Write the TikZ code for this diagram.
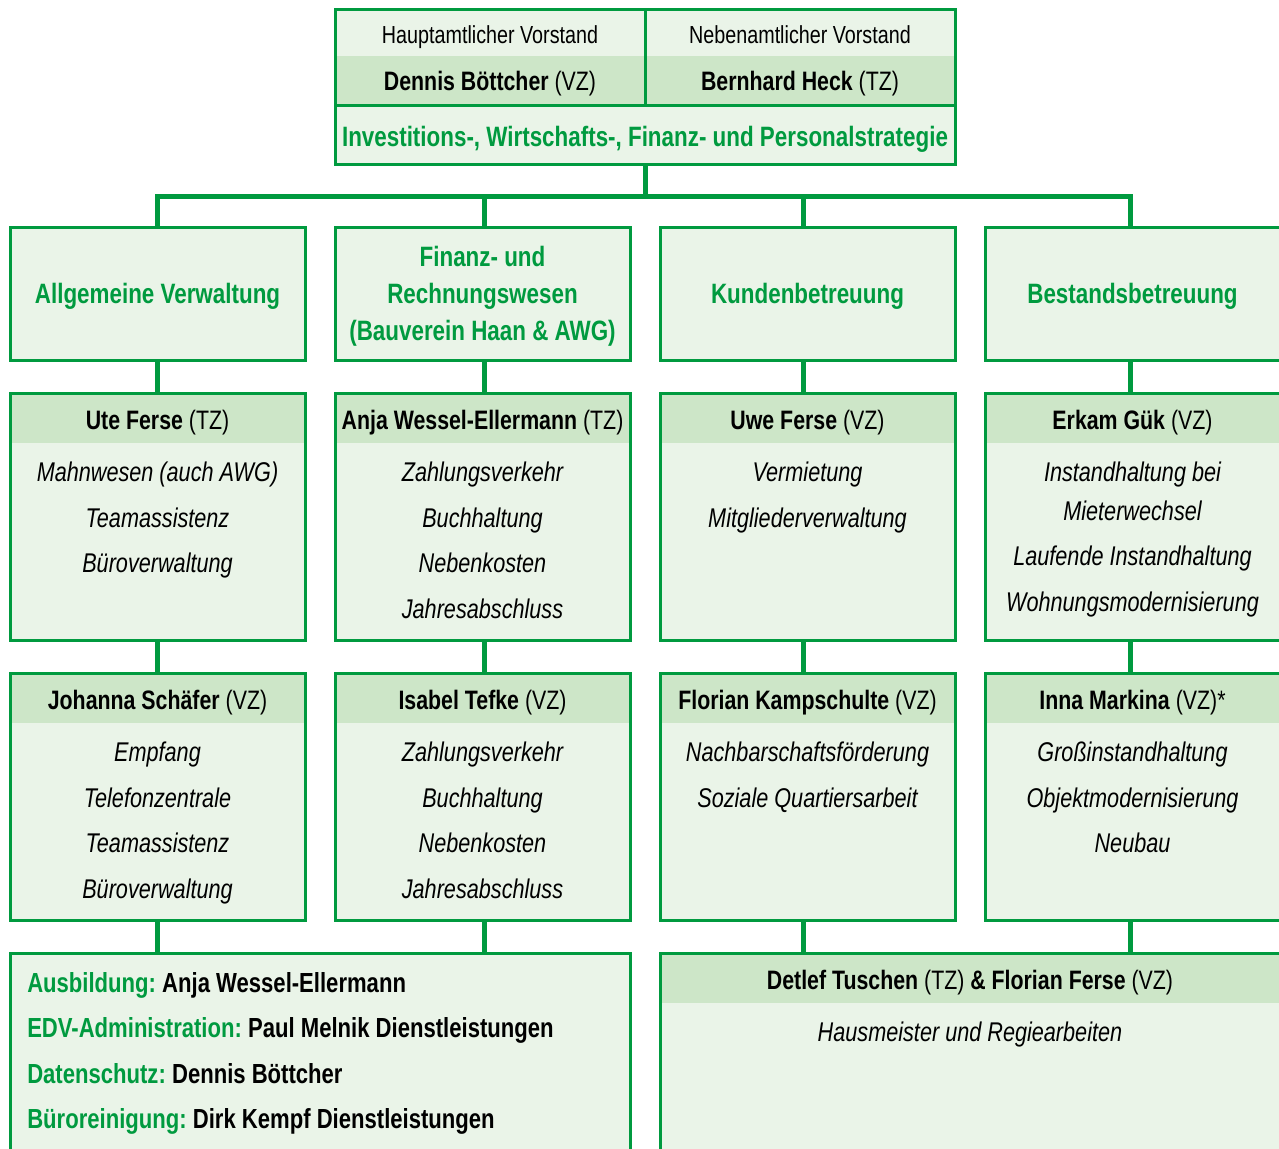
\documentclass[tikz,border=0pt]{standalone}
\usepackage{fontspec}
\setmainfont{Liberation Sans}[FakeStretch=0.8]
\usepackage{tikz}

\definecolor{ogGreen}{RGB}{0,154,63}
\definecolor{ogLight}{RGB}{234,244,232}
\definecolor{ogMid}{RGB}{205,230,200}

\begin{document}
\begin{tikzpicture}[x=0.75pt,y=0.75pt,yscale=-1,xscale=1,
        plainbox/.style={fill=ogLight, inner sep=0pt, outer sep=0pt},
        deptbox/.style={plainbox, minimum width=221.25pt, minimum height=99.75pt},
        persbox/.style={plainbox, minimum width=221.25pt, minimum height=185.25pt},
        band/.style={fill=ogMid, inner sep=0pt, outer sep=0pt, minimum height=37.5pt},
        frame/.style={draw=ogGreen, line width=2.25pt},
        conn/.style={draw=ogGreen, line width=3.75pt},
        dept/.style={text=ogGreen, align=center, text depth=0pt, font=\bfseries\fontsize{21}{28}\selectfont},
        who/.style={font=\fontsize{20}{24}\selectfont, inner sep=0pt, text height=17.4pt, text depth=0pt},
        office/.style={font=\fontsize{18.5}{22}\selectfont, inner sep=0pt, text height=13.3pt, text depth=0pt},
        jobs/.style={anchor=north, align=center, inner sep=0pt, font=\itshape\fontsize{20.3}{34.1}\selectfont}]
    \useasboundingbox (0,0) rectangle (1279,1149);
    \clip (0,0) rectangle (1279,1149);

    % Vorstand
    \node[plainbox, minimum width=465pt, minimum height=115.5pt] (board) at (645,87) {};
    \node[band, minimum width=465pt] (boardband) at (645,81) {};
    \node[office] (haupt) at (490,35) {Hauptamtlicher Vorstand};
    \node[office] (neben) at (800,35) {Nebenamtlicher Vorstand};
    \node[who] (boettcher) at (490,79) {\textbf{Dennis Böttcher} (VZ)};
    \node[who] (heck) at (800,79) {\textbf{Bernhard Heck} (TZ)};
    \node[dept] (strategie) at (645,136) {Investitions-, Wirtschafts-, Finanz- und Personalstrategie};

    % Abteilungen
    \node[deptbox, dept] (verw) at (157.5,293.5) {Allgemeine Verwaltung};
    \node[deptbox, dept] (fibu) at (482.5,293.5) {Finanz- und\\Rechnungswesen\\(Bauverein Haan \& AWG)};
    \node[deptbox, dept] (kunde) at (807.5,293.5) {Kundenbetreuung};
    \node[deptbox, dept] (bestand) at (1132.5,293.5) {Bestandsbetreuung};

    % erste Reihe
    \node[persbox] (ferse) at (157.5,516.5) {};
    \node[band, who, minimum width=221.25pt, anchor=north] (fersename) at (ferse.north) {\textbf{Ute Ferse} (TZ)};
    \path (ferse.north) ++(0,69) node[jobs] (fersejobs) {Mahnwesen (auch AWG)\\Teamassistenz\\Büroverwaltung};

    \node[persbox] (wessel) at (482.5,516.5) {};
    \node[band, who, minimum width=221.25pt, anchor=north] (wesselname) at (wessel.north) {\textbf{Anja Wessel-Ellermann} (TZ)};
    \path (wessel.north) ++(0,69) node[jobs] (wesseljobs) {Zahlungsverkehr\\Buchhaltung\\Nebenkosten\\Jahresabschluss};

    \node[persbox] (uwe) at (807.5,516.5) {};
    \node[band, who, minimum width=221.25pt, anchor=north] (uwename) at (uwe.north) {\textbf{Uwe Ferse} (VZ)};
    \path (uwe.north) ++(0,69) node[jobs] (uwejobs) {Vermietung\\Mitgliederverwaltung};

    \node[persbox] (guek) at (1132.5,516.5) {};
    \node[band, who, minimum width=221.25pt, anchor=north] (guekname) at (guek.north) {\textbf{Erkam Gük} (VZ)};
    \path (guek.north) ++(0,69) node[jobs] (guekjobs) {Instandhaltung bei\\[-5.25pt]Mieterwechsel\\Laufende Instandhaltung\\Wohnungsmodernisierung};

    % zweite Reihe
    \node[persbox] (schaefer) at (157.5,796.5) {};
    \node[band, who, minimum width=221.25pt, anchor=north] (schaefername) at (schaefer.north) {\textbf{Johanna Schäfer} (VZ)};
    \path (schaefer.north) ++(0,69) node[jobs] (schaeferjobs) {Empfang\\Telefonzentrale\\Teamassistenz\\Büroverwaltung};

    \node[persbox] (tefke) at (482.5,796.5) {};
    \node[band, who, minimum width=221.25pt, anchor=north] (tefkename) at (tefke.north) {\textbf{Isabel Tefke} (VZ)};
    \path (tefke.north) ++(0,69) node[jobs] (tefkejobs) {Zahlungsverkehr\\Buchhaltung\\Nebenkosten\\Jahresabschluss};

    \node[persbox] (kamp) at (807.5,796.5) {};
    \node[band, who, minimum width=221.25pt, anchor=north] (kampname) at (kamp.north) {\textbf{Florian Kampschulte} (VZ)};
    \path (kamp.north) ++(0,69) node[jobs] (kampjobs) {Nachbarschaftsförderung\\Soziale Quartiersarbeit};

    \node[persbox] (markina) at (1132.5,796.5) {};
    \node[band, who, minimum width=221.25pt, anchor=north] (markinaname) at (markina.north) {\textbf{Inna Markina} (VZ)*};
    \path (markina.north) ++(0,69) node[jobs] (markinajobs) {Großinstandhaltung\\Objektmodernisierung\\Neubau};

    % unten
    \node[plainbox, minimum width=465pt, minimum height=162.75pt] (dienste) at (320,1061.5) {};
    \node[anchor=north west, align=left, inner sep=0pt, font=\bfseries\fontsize{20.7}{34.1}\selectfont] (dienstliste) at (27,972) {%
        \textcolor{ogGreen}{Ausbildung:}\hspace{-1.5pt} Anja Wessel-Ellermann\\
        \textcolor{ogGreen}{EDV-Administration:}\hspace{-1.5pt} Paul Melnik Dienstleistungen\\
        \textcolor{ogGreen}{Datenschutz:}\hspace{-1.5pt} Dennis Böttcher\\
        \textcolor{ogGreen}{Büroreinigung:}\hspace{-1.5pt} Dirk Kempf Dienstleistungen};

    \node[plainbox, minimum width=465pt, minimum height=162.75pt] (hausmeister) at (970,1061.5) {};
    \node[band, who, minimum width=465pt, anchor=north] (tuschen) at (hausmeister.north) {\textbf{Detlef Tuschen} (TZ) \textbf{\& Florian Ferse} (VZ)};
    \path (hausmeister.north) ++(0,69) node[jobs] (regie) {Hausmeister und Regiearbeiten};

    % Verbindungen
    \coordinate (c1) at (157,196);
    \coordinate (c2) at (484,196);
    \coordinate (c3) at (803,196);
    \coordinate (c4) at (1130,196);
    \draw[conn] (board.south) -- (board.south |- c1);
    \draw[conn] (c1 |- verw.north) -- (c1) -- (c4) -- (c4 |- bestand.north);
    \draw[conn] (c2) -- (c2 |- fibu.north);
    \draw[conn] (c3) -- (c3 |- kunde.north);
    \foreach \c/\a/\b in {c1/verw/ferse, c2/fibu/wessel, c3/kunde/uwe, c4/bestand/guek,
                          c1/ferse/schaefer, c2/wessel/tefke, c3/uwe/kamp, c4/guek/markina,
                          c1/schaefer/dienste, c2/tefke/dienste, c3/kamp/hausmeister, c4/markina/hausmeister}
        \draw[conn] (\c |- \a.south) -- (\c |- \b.north);

    % Rahmen
    \foreach \n in {board, verw, fibu, kunde, bestand, ferse, wessel, uwe, guek, schaefer, tefke, kamp, markina, dienste, hausmeister}
        \draw[frame] (\n.north west) rectangle (\n.south east);
    \draw[frame] (boardband.south -| board.west) -- (boardband.south -| board.east);
    \draw[frame] (board.north) -- (boardband.south);
\end{tikzpicture}
\end{document}
